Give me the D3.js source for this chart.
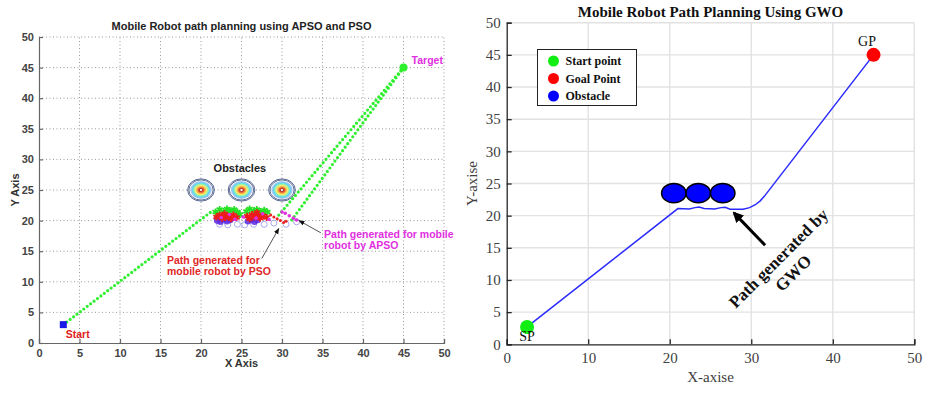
<!DOCTYPE html>
<html lang="en">
<head>
<meta charset="utf-8">
<title>Mobile Robot Path Planning</title>
<script src="https://d3js.org/d3.v7.min.js"></script>
<style>
  body { margin: 0; background: #fff; }
  svg { display: block; }
</style>
</head>
<body>
<script>

// ---------- left chart data (APSO / PSO) ----------
var leftTicks = [0, 5, 10, 15, 20, 25, 30, 35, 40, 45, 50];
var startL = [3, 3];
var targetL = [45, 45];
var psoLine = [[3, 3], [21.3, 21.5]];
var apsoLineA = [[29.6, 20.9], [45, 45]];
var apsoLineB = [[31.2, 20.1], [45, 45]];
var obstaclesL = [[20, 25], [25, 25], [30, 25]];
var contourRadii = [1.65, 1.5, 1.32, 1.14, 0.96, 0.78, 0.6, 0.42, 0.22];
var contourColors = ["none", "none", "#a8c4f0", "#5fd8f4", "#9cf0a8", "#f4ec70", "#f8b048", "#ec5a30", "#ffffff"];
var greenMarks = [[21.8, 21.4], [22.3, 21.8], [22.8, 21.5], [23.2, 21.9], [23.6, 21.6], [24.1, 21.8], [24.5, 21.4],
                  [22.0, 21.0], [25.6, 21.5], [26.0, 21.9], [26.5, 21.6], [26.9, 21.8], [27.3, 21.5], [27.8, 21.7],
                  [28.2, 21.4], [23.4, 21.2], [26.7, 21.2], [24.8, 21.0], [22.6, 20.8], [27.5, 20.9]];
var redMarks = [[21.9, 20.6], [22.3, 20.9], [22.6, 20.4], [22.9, 21.1], [23.3, 20.7], [23.7, 20.3], [24.0, 20.9],
                [24.4, 20.5], [25.7, 20.7], [26.0, 20.3], [26.3, 21.0], [26.6, 20.6], [27.0, 20.9], [27.3, 20.4],
                [27.7, 20.8], [28.1, 20.5], [23.0, 20.5], [26.9, 21.3]];
var redTail = [[28.6, 20.9], [29.0, 20.6], [29.4, 20.3], [29.8, 20.0], [30.2, 19.7], [30.5, 19.9]];
var blueMarks = [[22.0, 20.0], [22.4, 19.8], [22.8, 20.2], [23.2, 19.9], [23.6, 20.1], [25.8, 19.9], [26.2, 20.2],
                 [26.6, 19.8], [27.0, 20.1]];
var magentaMarks = [[22.5, 20.5], [23.5, 21.0], [24.2, 20.2], [25.2, 20.6], [26.8, 20.4], [27.6, 21.1], [28.4, 20.2],
                    [30.0, 21.4], [30.4, 21.2], [30.9, 20.8], [31.4, 20.4], [31.8, 20.1]];
var openCircles = [[22.3, 19.4], [23.3, 19.3], [24.5, 19.4], [25.4, 19.3], [26.5, 19.4], [27.8, 19.4], [29.0, 19.6],
                   [30.5, 19.4], [31.8, 19.8]];

// ---------- right chart data (GWO) ----------
var rightXTicks = [0, 10, 20, 30, 40, 50];
var rightYTicks = [0, 5, 10, 15, 20, 25, 30, 35, 40, 45, 50];
var startR = [2.5, 2.7];
var goalR = [45, 45];
var obstaclesR = [[20.5, 23.5], [23.5, 23.5], [26.5, 23.5]];
var obstacleRadius = 1.5;
var gwoPath = [[2.5, 2.7], [21, 21.1], [22.4, 21.05], [23.1, 21.25], [23.6, 21.35], [24.2, 21.1], [25.5, 21.05],
               [26.3, 21.25], [26.8, 21.3], [27.4, 21.0], [29, 21.0], [29.8, 21.25], [30.5, 21.7], [31.1, 22.3],
               [31.6, 23.0], [45, 45]];
var legendItems = ["Start point", "Goal Point", "Obstacle"];
var legendColors = ["#11ee11", "#ff0000", "#0000ff"];

var svg = d3.select("body").append("svg").attr("width", 935).attr("height", 393);

// =====================================================
// Left chart
// =====================================================
var xL = d3.scaleLinear().domain([0, 50]).range([39, 444]);
var yL = d3.scaleLinear().domain([0, 50]).range([343, 37]);
var gL = svg.append("g").style("font-family", "Liberation Sans, Arial, sans-serif");

// dotted grid
gL.selectAll("line.gx").data(leftTicks.slice(1)).enter().append("line")
  .attr("x1", d => xL(d)).attr("x2", d => xL(d)).attr("y1", yL(0)).attr("y2", yL(50))
  .attr("stroke", "#9a9a9a").attr("stroke-width", 1).attr("stroke-dasharray", "1,2.5");
gL.selectAll("line.gy").data(leftTicks.slice(1)).enter().append("line")
  .attr("y1", d => yL(d)).attr("y2", d => yL(d)).attr("x1", xL(0)).attr("x2", xL(50))
  .attr("stroke", "#9a9a9a").attr("stroke-width", 1).attr("stroke-dasharray", "1,2.5");

// axes
var axL = d3.axisBottom(xL).tickValues(leftTicks).tickSize(-4).tickPadding(6);
var ayL = d3.axisLeft(yL).tickValues(leftTicks).tickSize(-4).tickPadding(5);
gL.append("g").attr("transform", "translate(0," + yL(0) + ")").call(axL);
gL.append("g").attr("transform", "translate(" + xL(0) + ",0)").call(ayL);
gL.selectAll(".domain, .tick line").attr("stroke", "#666").attr("stroke-width", 1.2);
gL.selectAll(".tick text").style("font-size", "11px").style("font-weight", "bold").attr("fill", "#444")
  .style("font-family", "Liberation Sans, Arial, sans-serif");

// title and labels
gL.append("text").attr("x", 241.5).attr("y", 30).attr("text-anchor", "middle")
  .style("font-size", "11px").attr("fill", "#222").style("font-weight", "600")
  .text("Mobile Robot path planning using APSO and PSO");
gL.append("text").attr("x", 241.5).attr("y", 367).attr("text-anchor", "middle")
  .style("font-size", "11px").style("font-weight", "bold").attr("fill", "#333").text("X Axis");
gL.append("text").attr("transform", "translate(19,190) rotate(-90)").attr("text-anchor", "middle")
  .style("font-size", "11px").style("font-weight", "bold").attr("fill", "#333").text("Y Axis");

// obstacle contours
obstaclesL.forEach(function(c) {
  gL.selectAll(null).data(contourRadii).enter().append("ellipse")
    .attr("cx", xL(c[0])).attr("cy", yL(c[1]))
    .attr("rx", d => xL(d) - xL(0)).attr("ry", d => (yL(0) - yL(d)) * 1.1)
    .attr("fill", (d, i) => contourColors[i])
    .attr("stroke", (d, i) => i < 2 ? "#4a5a88" : (i === contourRadii.length - 1 ? "#a02020" : "none"))
    .attr("stroke-width", 0.9);
});
gL.append("text").attr("x", xL(24.8)).attr("y", yL(27.9)).attr("text-anchor", "middle")
  .style("font-size", "11px").style("font-weight", "bold").attr("fill", "#222").text("Obstacles");

// dotted green paths
var lineL = d3.line().x(d => xL(d[0])).y(d => yL(d[1]));
[psoLine, apsoLineA, apsoLineB].forEach(function(p) {
  gL.append("path").attr("d", lineL(p)).attr("fill", "none").attr("stroke", "#2ef02e")
    .attr("stroke-width", 3.2).attr("stroke-linecap", "round").attr("stroke-dasharray", "0,4.3");
});

// cluster of particles
gL.selectAll("circle.open").data(openCircles).enter().append("circle")
  .attr("cx", d => xL(d[0])).attr("cy", d => yL(d[1])).attr("r", 3)
  .attr("fill", "none").attr("stroke", "#a8a8f0").attr("stroke-width", 1);
gL.selectAll("circle.blue").data(blueMarks).enter().append("circle")
  .attr("cx", d => xL(d[0])).attr("cy", d => yL(d[1])).attr("r", 3.3)
  .attr("fill", "#5a2ae0").attr("opacity", 0.85);
var star = d3.symbol().type(d3.symbolAsterisk).size(34);
gL.selectAll("path.green").data(greenMarks).enter().append("path")
  .attr("d", star).attr("transform", d => "translate(" + xL(d[0]) + "," + yL(d[1]) + ")")
  .attr("fill", "none").attr("stroke", "#22e022").attr("stroke-width", 1.8);
gL.selectAll("path.red").data(redMarks).enter().append("path")
  .attr("d", star).attr("transform", d => "translate(" + xL(d[0]) + "," + yL(d[1]) + ")")
  .attr("fill", "none").attr("stroke", "#ee1a1a").attr("stroke-width", 1.8);
gL.selectAll("circle.mag").data(magentaMarks).enter().append("circle")
  .attr("cx", d => xL(d[0])).attr("cy", d => yL(d[1])).attr("r", 1.8).attr("fill", "#e030e0");
gL.selectAll("circle.redtail").data(redTail).enter().append("circle")
  .attr("cx", d => xL(d[0])).attr("cy", d => yL(d[1])).attr("r", 1.5).attr("fill", "#ee2020");

// start / target
gL.append("rect").attr("x", xL(startL[0]) - 3.5).attr("y", yL(startL[1]) - 3.5)
  .attr("width", 7).attr("height", 7).attr("fill", "#1a1ae8");
gL.append("circle").attr("cx", xL(targetL[0])).attr("cy", yL(targetL[1])).attr("r", 4).attr("fill", "#2ef02e");
gL.append("text").attr("x", xL(3.3)).attr("y", yL(0.85)).style("font-size", "10.5px")
  .style("font-weight", "bold").attr("fill", "#e02020").text("Start");
gL.append("text").attr("x", xL(46)).attr("y", yL(45.6)).style("font-size", "10.5px")
  .style("font-weight", "bold").attr("fill", "#e030e0").text("Target");

// annotations
var defs = svg.append("defs");
defs.append("marker").attr("id", "headS").attr("viewBox", "0 0 10 10").attr("refX", 9).attr("refY", 5)
  .attr("markerWidth", 6).attr("markerHeight", 6).attr("orient", "auto")
  .append("path").attr("d", "M0,1L10,5L0,9Z").attr("fill", "#111");
defs.append("marker").attr("id", "headB").attr("viewBox", "0 0 10 10").attr("refX", 8).attr("refY", 5)
  .attr("markerWidth", 3.6).attr("markerHeight", 3.6).attr("orient", "auto")
  .append("path").attr("d", "M0,0L10,5L0,10Z").attr("fill", "#000");

gL.append("line").attr("x1", xL(27.5)).attr("y1", yL(13.8)).attr("x2", xL(29.6)).attr("y2", yL(18.7))
  .attr("stroke", "#555").attr("stroke-width", 1).attr("marker-end", "url(#headS)");
gL.append("line").attr("x1", xL(34.8)).attr("y1", yL(18.0)).attr("x2", xL(32.1)).attr("y2", yL(20.0))
  .attr("stroke", "#555").attr("stroke-width", 1).attr("marker-end", "url(#headS)");
var psoNote = gL.append("text").attr("x", xL(15.8)).attr("y", yL(12.9))
  .style("font-size", "10.5px").style("font-weight", "bold").attr("fill", "#e02828");
psoNote.append("tspan").text("Path generated for");
psoNote.append("tspan").attr("x", xL(15.8)).attr("dy", 11).text("mobile robot by PSO");
var apsoNote = gL.append("text").attr("x", xL(35.2)).attr("y", yL(17.2))
  .style("font-size", "10.5px").style("font-weight", "bold").attr("fill", "#e030e0");
apsoNote.append("tspan").text("Path generated for mobile");
apsoNote.append("tspan").attr("x", xL(35.2)).attr("dy", 11.5).text("robot by APSO");

// =====================================================
// Right chart
// =====================================================
var xR = d3.scaleLinear().domain([0, 50]).range([506.7, 914.3]);
var yR = d3.scaleLinear().domain([0, 50]).range([344.3, 22.7]);
var gR = svg.append("g").style("font-family", "Liberation Serif, Times New Roman, serif");

// grid
gR.selectAll("line.gx").data(rightXTicks.slice(1)).enter().append("line")
  .attr("x1", d => xR(d)).attr("x2", d => xR(d)).attr("y1", yR(0)).attr("y2", yR(50))
  .attr("stroke", "#e2e2e2").attr("stroke-width", 1.4);
gR.selectAll("line.gy").data(rightYTicks.slice(1)).enter().append("line")
  .attr("y1", d => yR(d)).attr("y2", d => yR(d)).attr("x1", xR(0)).attr("x2", xR(50))
  .attr("stroke", "#e2e2e2").attr("stroke-width", 1.4);

var axR = d3.axisBottom(xR).tickValues(rightXTicks).tickSize(-5).tickPadding(8);
var ayR = d3.axisLeft(yR).tickValues(rightYTicks).tickSize(-5).tickPadding(6);
gR.append("g").attr("transform", "translate(0," + yR(0) + ")").call(axR);
gR.append("g").attr("transform", "translate(" + xR(0) + ",0)").call(ayR);
gR.selectAll(".domain, .tick line").attr("stroke", "#262626").attr("stroke-width", 1.3);
gR.selectAll(".tick text").style("font-size", "15px").attr("fill", "#404040")
  .style("font-family", "Liberation Serif, Times New Roman, serif");

gR.append("text").attr("x", 710.5).attr("y", 17).attr("text-anchor", "middle")
  .style("font-size", "15px").style("font-weight", "bold").attr("fill", "#111")
  .text("Mobile Robot Path Planning Using GWO");
gR.append("text").attr("x", 710.5).attr("y", 382).attr("text-anchor", "middle")
  .style("font-size", "15px").attr("fill", "#404040").text("X-axise");
gR.append("text").attr("transform", "translate(477,183.5) rotate(-90)").attr("text-anchor", "middle")
  .style("font-size", "15px").attr("fill", "#404040").text("Y-axise");

// path
var lineR = d3.line().x(d => xR(d[0])).y(d => yR(d[1]));
gR.append("path").attr("d", lineR(gwoPath)).attr("fill", "none")
  .attr("stroke", "#2a2aff").attr("stroke-width", 1.5);

// obstacles
gR.selectAll("ellipse.obs").data(obstaclesR).enter().append("ellipse")
  .attr("cx", d => xR(d[0])).attr("cy", d => yR(d[1]))
  .attr("rx", xR(obstacleRadius) - xR(0)).attr("ry", yR(0) - yR(obstacleRadius))
  .attr("fill", "#0000ff").attr("stroke", "#000").attr("stroke-width", 1.5);

// start / goal
gR.append("circle").attr("cx", xR(startR[0])).attr("cy", yR(startR[1])).attr("r", 7).attr("fill", legendColors[0]);
gR.append("circle").attr("cx", xR(goalR[0])).attr("cy", yR(goalR[1])).attr("r", 7).attr("fill", legendColors[1]);
gR.append("text").attr("x", xR(startR[0])).attr("y", 340.5).attr("text-anchor", "middle")
  .style("font-size", "14px").attr("fill", "#111").text("SP");
gR.append("text").attr("x", 867).attr("y", 46).attr("text-anchor", "middle")
  .style("font-size", "14px").attr("fill", "#111").text("GP");

// legend
var lg = gR.append("g").attr("transform", "translate(537.5,49.5)");
lg.append("rect").attr("width", 99).attr("height", 56).attr("fill", "#fff")
  .attr("stroke", "#222").attr("stroke-width", 1);
lg.selectAll("circle").data(legendItems).enter().append("circle")
  .attr("cx", 16).attr("cy", (d, i) => 11.5 + i * 17.5).attr("r", 5.5)
  .attr("fill", (d, i) => legendColors[i]);
lg.selectAll("text").data(legendItems).enter().append("text")
  .attr("x", 28).attr("y", (d, i) => 15.5 + i * 17.5)
  .style("font-size", "12px").style("font-weight", "bold").attr("fill", "#111").text(d => d);

// annotation arrow and rotated note
gR.append("line").attr("x1", xR(31.7)).attr("y1", yR(15.4)).attr("x2", xR(27.9)).attr("y2", yR(20.4))
  .attr("stroke", "#000").attr("stroke-width", 3).attr("marker-end", "url(#headB)");
var note = gR.append("text").attr("transform", "translate(" + xR(33.3) + "," + yR(13.4) + ") rotate(-45)")
  .attr("text-anchor", "middle").style("font-size", "17px").style("font-weight", "bold").attr("fill", "#111");
note.append("tspan").attr("x", 0).attr("y", 6).text("Path generated by");
note.append("tspan").attr("x", 0).attr("y", 27).text("GWO");

</script>
</body>
</html>
